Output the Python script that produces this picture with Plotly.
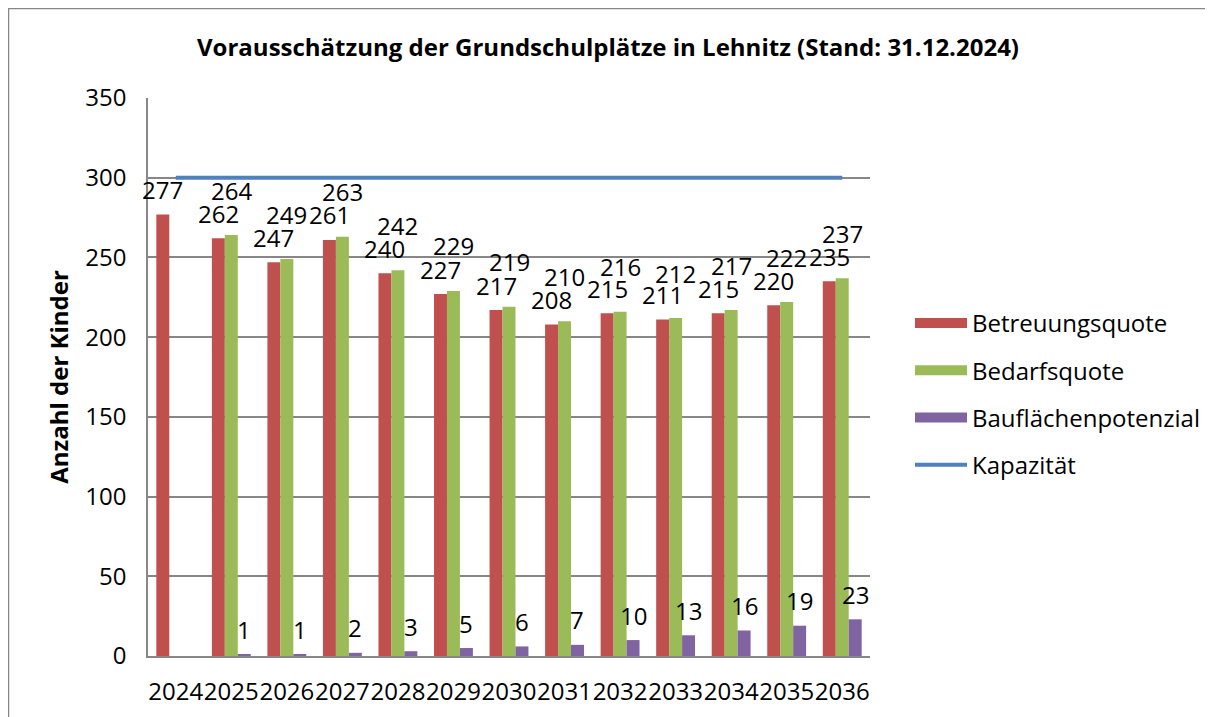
import plotly.graph_objects as go

years = ["2024", "2025", "2026", "2027", "2028", "2029", "2030", "2031", "2032", "2033", "2034", "2035", "2036"]
betreuung = [277, 262, 247, 261, 240, 227, 217, 208, 215, 211, 215, 220, 235]
bedarf = [None, 264, 249, 263, 242, 229, 219, 210, 216, 212, 217, 222, 237]
bauflaeche = [None, 1, 1, 2, 3, 5, 6, 7, 10, 13, 16, 19, 23]
kapazitaet = [300] * 13

FONT = "Open Sans"
OFF = 8  # page body margin
W, H = 1213 - OFF, 717 - OFF
L, T = 148 - OFF, 98 - OFF
pw, ph = 722, 558
R, B = W - L - pw, H - T - ph
BARGAP = 0.3
bar_px = pw / len(years) * (1 - BARGAP) / 3

def fx(px):  # reference screen px -> paper x
    return (px - OFF - L) / pw

def fy(py):  # reference screen px -> paper y
    return (T + ph - (py - OFF)) / ph

series = [("Betreuungsquote", betreuung, "#c0504d", -bar_px, 25),
          ("Bedarfsquote", bedarf, "#9bbb59", 0, 45),
          ("Bauflächenpotenzial", bauflaeche, "#8064a2", bar_px, 25)]

fig = go.Figure()
annotations = []
for i, (name, vals, col, dx, dy) in enumerate(series):
    fig.add_trace(go.Bar(
        x=years, y=vals, name=name, legendgroup=f"g{i}", showlegend=False,
        marker=dict(color=col, line=dict(width=0)),
    ))
    # legend entry drawn as a wide coloured band (like the reference legend keys)
    fig.add_trace(go.Scatter(x=[None], y=[None], name=name, legendgroup=f"g{i}", mode="lines",
                             line=dict(color=col, width=15), hoverinfo="skip"))
    for idx, v in enumerate(vals):
        if v is None:
            continue
        annotations.append(dict(x=idx, y=v, xref="x", yref="y", text=str(v), showarrow=False,
                                xshift=dx, yshift=dy, xanchor="center", yanchor="middle",
                                font=dict(family=FONT, size=24, color="black")))
fig.add_trace(go.Scatter(x=years, y=kapazitaet, name="Kapazität", mode="lines", legendgroup="g3",
                         line=dict(color="#4f81bd", width=4)))

fig.update_layout(
    width=W, height=H,
    margin=dict(l=L, r=R, t=T, b=B, autoexpand=False),
    paper_bgcolor="white", plot_bgcolor="white",
    font=dict(family=FONT, size=24, color="black"),
    title=dict(text="<b>Vorausschätzung der Grundschulplätze in Lehnitz (Stand: 31.12.2024)</b>",
               x=(608 - OFF) / W, xref="container", xanchor="center",
               y=1 - (48 - OFF) / H, yref="container", yanchor="middle",
               font=dict(family=FONT, size=24, color="black")),
    barmode="group", bargap=BARGAP, bargroupgap=0,
    showlegend=True,
    legend=dict(x=fx(910), xanchor="left", y=fy(394), yanchor="middle",
                font=dict(family=FONT, size=24), tracegroupgap=13, itemwidth=52,
                traceorder="grouped", bgcolor="rgba(0,0,0,0)"),
    xaxis=dict(type="category", categoryorder="array", categoryarray=years,
               range=[-0.5, len(years) - 0.5], autorange=False,
               showgrid=False, showline=True, linecolor="#878787", linewidth=1.5,
               ticks="", tickangle=0, ticklabelstandoff=13,
               tickfont=dict(family=FONT, size=24), fixedrange=True),
    yaxis=dict(range=[0, 350], dtick=50, showgrid=True, gridcolor="#878787", gridwidth=1.5,
               showline=True, linecolor="#878787", linewidth=1.5, zeroline=False, ticks="",
               ticklabelstandoff=15, tickfont=dict(family=FONT, size=24),
               title=dict(text="<b>Anzahl der Kinder</b>", font=dict(family=FONT, size=24), standoff=10)),
    annotations=annotations,
    shapes=[dict(type="path", xref="paper", yref="paper",
                 path=f"M {fx(8.5)},{fy(800)} L {fx(8.5)},{fy(8.5)} L {fx(1300)},{fy(8.5)}",
                 line=dict(color="#878787", width=1.5), layer="below")],
)

fig.write_html("out.html")
